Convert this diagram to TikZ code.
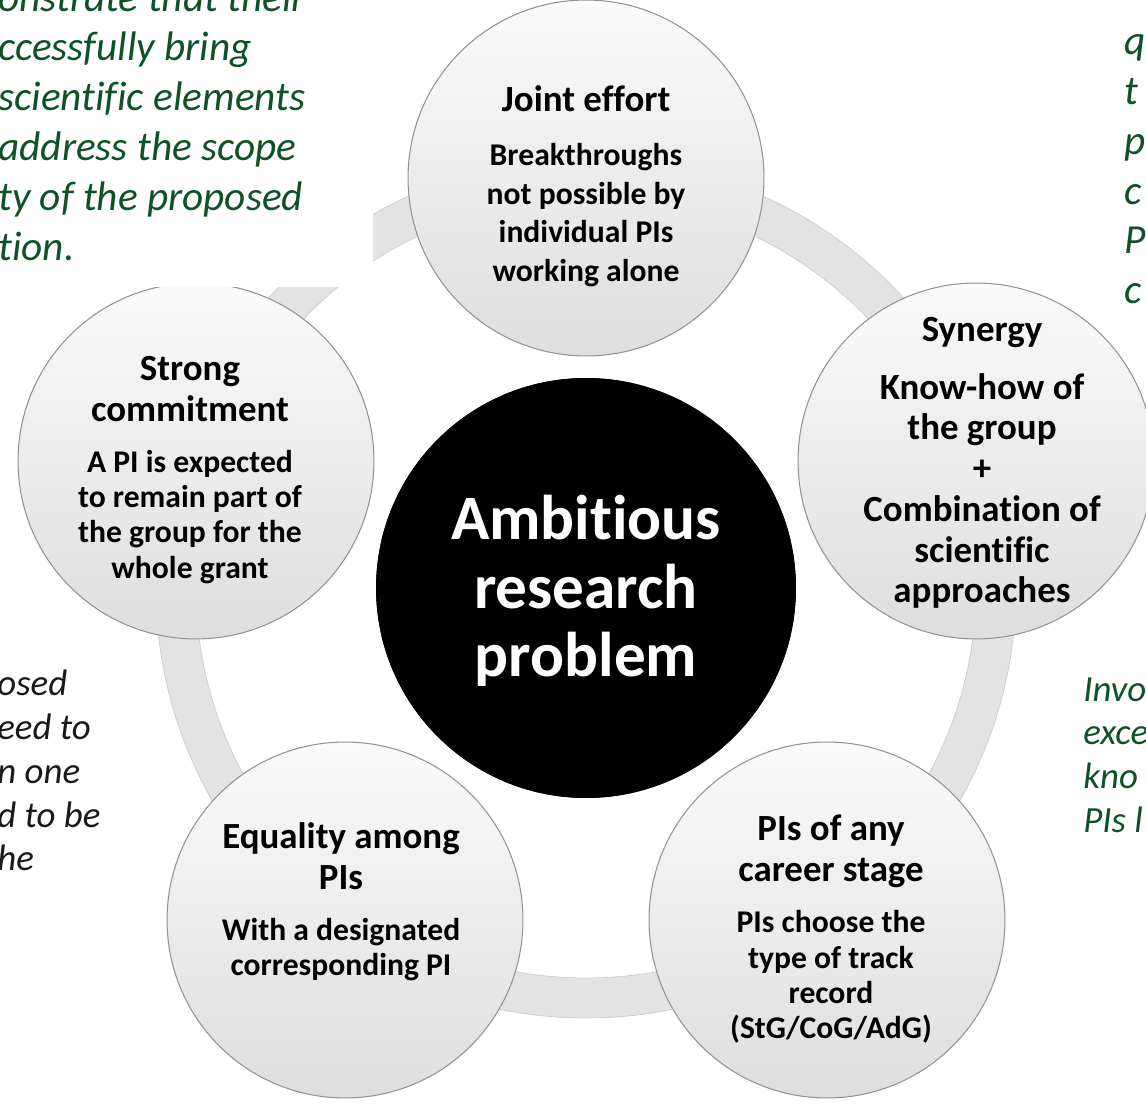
\documentclass[tikz,border=0pt]{standalone}
\usepackage{fontspec}
\setmainfont{Carlito}[Ligatures=NoCommon]
\definecolor{notegreen}{RGB}{14,82,38}

\begin{document}
\begin{tikzpicture}[x=0.02cm,y=-0.02cm,
  ring/.style={line width=0.8cm,draw=gray!22},
  petal/.style={circle,draw=gray!85,line width=0.6pt,top color=gray!4,bottom color=gray!26,minimum size=7.12cm,inner sep=0pt},
  core/.style={circle,fill=black,minimum size=8.4cm,inner sep=0pt},
  head/.style={align=center,font=\bfseries\fontsize{21}{23.5}\selectfont,inner sep=0pt},
  body/.style={align=center,font=\bfseries\fontsize{18}{20}\selectfont,inner sep=0pt},
  note/.style={anchor=north west,align=left,inner sep=0pt,text=notegreen,font=\itshape\fontsize{23.5}{28.4}\selectfont}]
  \useasboundingbox (0,0) rectangle (1146,1104);
  \clip (0,0) rectangle (1146,1104);
  % ring behind the circles
  \node[core] (core) at (586,588) {};
  \draw[ring] (core.center) circle[radius=410];
  \draw[gray!40,line width=0.4pt] (core.center) circle[radius=430] (core.center) circle[radius=390];
  \node[core] at (core.center) {};
  \node[petal] (je) at (586,178) {};
  \node[petal] (syn) at (976,461) {};
  \node[petal] (sc) at (196,461) {};
  \node[petal] (pa) at (827,920) {};
  \node[petal] (eq) at (345,920) {};
  % texts of the circles
  \node[text=white,align=center,inner sep=0pt,font=\bfseries\fontsize{36}{39}\selectfont] (coret) at (586,591) {Ambitious\\research\\problem};
  \node[head] (jeh) at (586,99) {Joint effort};
  \node[body,font=\bfseries\fontsize{18}{22}\selectfont] (jeb) at (586,215) {Breakthroughs\\not possible by\\individual PIs\\working alone};
  \node[head] (synh) at (982,333) {Synergy};
  \node[body,font=\bfseries\fontsize{21}{23.2}\selectfont] (synb) at (982,491) {Know-how of\\the group\\+\\Combination of\\scientific\\approaches};
  \node[head] (sch) at (190,389) {Strong\\commitment};
  \node[body] (scb) at (190,517) {A PI is expected\\to remain part of\\the group for the\\whole grant};
  \node[head] (pah) at (831,851) {PIs of any\\career stage};
  \node[body] (pab) at (831,977) {PIs choose the\\type of track\\record\\(StG/CoG/AdG)};
  \node[head] (eqh) at (341,856) {Equality among\\PIs};
  \node[body] (eqb) at (341,950) {With a designated\\corresponding PI};
  % side notes
  \fill[white] (0,0) rectangle (373,287);
  \node[note] (tl) at (-2,-18) {onstrate that their\\ccessfully bring\\scientific elements\\address the scope\\ty of the proposed\\tion.};
  \node[note] (tr) at (1124,34) {q\\t\\p\\c\\P\\c};
  \node[note,text=black!90,font=\itshape\fontsize{21}{24.9}\selectfont] (bl) at (-3,670) {osed\\eed to\\n one\\d to be\\he};
  \node[note,font=\itshape\fontsize{21}{24.9}\selectfont] (br) at (1083,677) {Invo\\exce\\kno\\PIs l};
\end{tikzpicture}
\end{document}
